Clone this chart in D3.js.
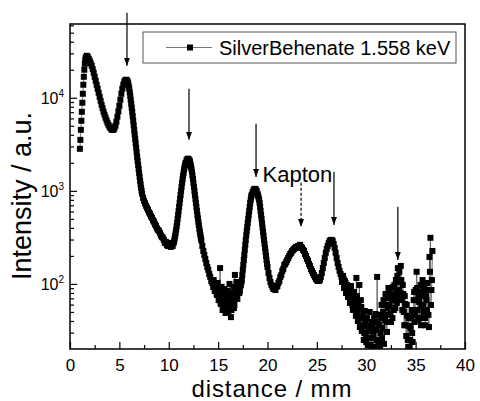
<!DOCTYPE html>
<html>
<head>
<meta charset="utf-8">
<script src="https://cdn.jsdelivr.net/npm/d3@7"></script>
<style>
  body { margin: 0; background: #fff; }
  svg { display: block; font-family: "Liberation Sans", Arial, sans-serif; }
</style>
</head>
<body>
<svg></svg>
<script>
// distance in mm, intensity in a.u.
const distance = [
  1.00,1.05,1.10,1.15,1.20,1.25,1.30,1.35,1.40,1.45,
  1.50,1.55,1.60,1.70,1.80,1.90,2.0,2.1,2.2,2.3,
  2.4,2.5,2.6,2.7,2.8,2.9,3.0,3.1,3.2,3.3,
  3.4,3.5,3.6,3.7,3.8,3.9,4.0,4.1,4.2,4.3,
  4.4,4.5,4.6,4.7,4.8,4.9,5.0,5.1,5.2,5.3,
  5.4,5.5,5.6,5.7,5.8,5.85,5.9,5.95,6.0,6.05,
  6.1,6.15,6.2,6.25,6.3,6.35,6.4,6.45,6.5,6.55,
  6.6,6.65,6.7,6.75,6.8,6.85,6.9,6.95,7.0,7.05,
  7.1,7.15,7.2,7.25,7.3,7.4,7.5,7.6,7.7,7.8,
  7.9,8.0,8.1,8.2,8.3,8.4,8.5,8.6,8.7,8.8,
  8.9,9.0,9.1,9.2,9.3,9.4,9.5,9.6,9.7,9.8,
  9.9,10.0,10.1,10.2,10.3,10.4,10.5,10.55,10.6,10.65,
  10.7,10.75,10.8,10.85,10.9,10.95,11.0,11.05,11.1,11.15,
  11.2,11.25,11.3,11.35,11.4,11.45,11.5,11.55,11.6,11.65,
  11.7,11.8,11.9,12.0,12.1,12.15,12.2,12.25,12.3,12.35,
  12.4,12.45,12.5,12.55,12.6,12.65,12.7,12.75,12.8,12.85,
  12.9,12.95,13.0,13.05,13.1,13.15,13.2,13.25,13.3,13.4,
  13.5,13.6,13.7,13.8,13.9,14.0,14.1,14.2,14.3,14.4,
  14.5,14.6,14.7,14.8,14.9,15.0,15.1,15.2,15.3,15.4,
  15.5,15.6,15.7,15.8,15.9,16.0,16.1,16.2,16.3,16.4,
  16.5,16.6,16.7,16.8,16.9,17.0,17.1,17.2,17.3,17.35,
  17.4,17.45,17.5,17.55,17.6,17.65,17.7,17.75,17.8,17.85,
  17.9,17.95,18.0,18.05,18.1,18.15,18.2,18.25,18.3,18.35,
  18.4,18.5,18.6,18.7,18.8,18.9,19.0,19.05,19.1,19.15,
  19.2,19.25,19.3,19.35,19.4,19.45,19.5,19.55,19.6,19.65,
  19.7,19.75,19.8,19.85,19.9,19.95,20.0,20.1,20.2,20.3,
  20.4,20.5,20.6,20.7,20.8,20.9,21.0,21.1,21.2,21.3,
  21.4,21.5,21.6,21.7,21.8,21.9,22.0,22.1,22.2,22.3,
  22.4,22.5,22.6,22.7,22.8,22.9,23.0,23.1,23.2,23.3,
  23.4,23.5,23.6,23.7,23.8,23.9,24.0,24.1,24.2,24.3,
  24.4,24.5,24.6,24.7,24.8,24.9,25.0,25.1,25.2,25.3,
  25.4,25.5,25.6,25.7,25.8,25.9,26.0,26.1,26.2,26.3,
  26.4,26.5,26.6,26.7,26.8,26.9,27.0,27.1,27.2,27.3,
  27.4,27.5,27.6,27.7,27.8,27.9,28.0,28.1,28.2,28.3,
  28.4,28.5,28.6,28.7,28.8,28.9,29.0,29.1,29.2,29.3,
  29.4,29.5,29.6,29.7,29.8,29.9,30.0,30.1,30.2,30.3,
  30.4,30.5,30.6,30.7,30.8,30.9,31.0,31.1,31.2,31.3,
  31.4,31.5,31.6,31.7,31.8,31.9,32.0,32.1,32.2,32.3,
  32.4,32.5,32.6,32.7,32.8,32.9,33.0,33.1,33.2,33.3,
  33.4,33.5,33.6,33.7,33.8,33.9,34.0,34.1,34.2,34.3,
  34.4,34.5,34.6,34.7,34.8,34.9,35.0,35.1,35.2,35.3,
  35.4,35.5,35.6,35.7,35.8,35.9,36.0,36.1,36.2,36.3,
  36.4,36.5,36.6,36.7
];
const intensity = [
  2830,3530,4525,5660,7070,8840,11040,13800,16800,20000,
  23200,25600,27200,28250,27550,26200,24950,23450,22050,20250,
  18550,16800,15250,13800,12500,11300,10250,9290,8410,7720,
  7070,6570,6100,5730,5380,5120,4880,4700,4580,4525,
  4525,4700,5000,5520,6250,7160,8210,9520,11040,12500,
  13800,14900,15440,15630,15250,14700,14150,13150,12500,11450,
  10510,9520,8620,7810,7070,6330,5660,5060,4525,4050,
  3620,3240,2900,2600,2320,2100,1900,1720,1560,1415,
  1280,1175,1078,1000,930,842,781,734,690,657,
  625,588,566,533,513,483,465,438,421,396,
  381,372,354,333,321,313,297,276,283,263,
  256,276,263,250,263,256,276,290,309,329,
  354,381,416,453,500,552,610,673,743,821,
  907,1000,1105,1220,1330,1450,1560,1682,1790,1900,
  2000,2130,2210,2210,2130,2050,1950,1830,1720,1600,
  1470,1345,1220,1105,1000,907,821,743,673,610,
  552,507,465,427,391,363,337,313,294,256,
  226,205,186,168,152,142,128,119,107.5,102.5,
  93,97.5,84,88,76,86,70.5,148,74,64,
  80,58,72.5,54,67,51,62.5,74,44,58,
  69,55,125,74,90.5,80,88,84,97.5,104,
  110,125,142,160,181,205,232,263,297,333,
  372,411,453,500,552,610,673,743,800,863,
  907,977,1025,1052,1040,1000,930,885,842,800,
  743,673,610,552,500,448,401,363,329,297,
  269,244,221,200,181,164,152,131,116,105,
  97.5,93,88,95,86,93,95,102.5,107.5,119,
  125,138,145,160,164,172,181,190,200,210,
  216,226,232,238,244,250,244,256,250,263,
  250,244,232,226,210,200,186,177,164,156,
  145,138,131,125,119,113,110,107.5,107.5,110,
  119,131,148,168,190,216,238,256,276,290,
  297,297,290,269,244,216,190,168,152,138,
  128,119,107.5,113,95,102.5,84,93,74,88,
  67,80,59.5,72.5,53.8,67,116,50,62.5,97.5,
  43,56.5,36,47.5,29.7,41,23.8,35.3,18.6,31.2,
  22.1,39,16.8,27.6,43,21.1,32,119,25,36,
  19.5,43,26.3,50,22.7,41,59.5,30.5,70.5,46.5,
  82,39,67,93,52.5,76,110,62.5,148,86,
  105,156,67,97.5,50,74,36,59.5,25,43,
  20.5,33.5,52.5,23.8,67,39,86,135,52.5,76,
  43,97.5,59.5,110,50,82,36,67,102.5,46.5,
  195,313,86,226
];
// in-between readings where the signal gets noisy
const extraDistance = [
  14.55,14.65,14.75,14.85,14.95,15.05,15.15,15.25,15.35,15.45,
  15.55,15.65,15.75,15.85,15.95,16.05,16.15,16.25,16.35,16.45,
  16.55,16.65,16.75,16.85,16.95,17.05,17.15,17.25,
  27.55,27.65,27.75,27.85,27.95,28.05,28.15,28.25,28.35,28.45,
  28.55,28.65,28.75,28.85,28.95,29.05,29.15,29.25,29.35,29.45,
  29.55,29.65,29.75,29.85,29.95,30.05,30.15,30.25,30.35,30.45,
  30.55,30.65,30.75,30.85,30.95,31.05,31.15,31.25,31.35,31.45,
  31.55,31.65,31.75,31.85,31.95,32.05,32.15,32.25,32.35,32.45,
  32.55,32.65,32.75,32.85,32.95,33.05,33.15,33.25,33.35,33.45,
  33.55,33.65,33.75,33.85,33.95,34.05,34.15,34.25,34.35,34.45,
  34.55,34.65,34.75,34.85,34.95,35.05,35.15,35.25,35.35,35.45,
  35.55,35.65,35.75,35.85,35.95,36.05,36.15,36.25,36.35,36.45,
  36.55,36.65
];
const extraIntensity = [
  110,84,95,78,102.5,67,90.5,61,93,52.5,
  76,88,48.8,70.5,84,58,100,65.5,52.5,80,
  93,59.5,74,105,69,93,80,95,
  105,122,90.5,107.5,80,97.5,72.5,86,62.5,95,
  69,52.5,82,61,45.5,74,40,55,34.4,67,
  31.2,43,25,51.2,27.6,43,22.1,34.4,50,26.3,
  20.5,37,18.6,32,47.5,25,39,21.6,46.5,29.7,
  59.5,33.5,67,43,78,39,55,90.5,58,47.5,
  74,43,67,97.5,55,82,122,70.5,135,80,
  110,52.5,78,36,61,27.6,45.5,21.1,35.3,25,
  43,29.7,50,82,46.5,67,90.5,41,64,82,
  36,74,58,95,43,74,52.5,86,34.4,135,
  59.5,110
];
if (distance.length !== intensity.length || extraDistance.length !== extraIntensity.length)
  throw new Error("length mismatch");

const xMajor = [0,5,10,15,20,25,30,35,40];
const xMinor = [2.5,7.5,12.5,17.5,22.5,27.5,32.5,37.5];
const yMajor = [100,1000,10000];
const yMinor = [30,40,50,60,70,80,90,200,300,400,500,600,700,800,900,
                2000,3000,4000,5000,6000,7000,8000,9000,20000,30000,40000,50000,60000];
const seriesName = "SilverBehenate 1.558 keV";
const xTitle = "distance / mm";
const yTitle = "Intensity / a.u.";

// peak markers: distance, arrow start / tip intensity
const markDist = [5.77, 12.05, 18.84, 23.4, 26.73, 33.2];
const markFrom = [82000, 12500, 5250, 1220, 1600, 673];
const markTo = [22100, 3530, 1410, 410, 430, 181];
const markDashed = [false, false, false, true, false, false];
const noteText = "Kapton";
const noteAt = [19.5, 1250];

const w = 480, h = 401;
const pLeft = 70, pRight = 465, pTop = 24, pBottom = 349;

const svg = d3.select("svg").attr("width", w).attr("height", h);

const x = d3.scaleLinear().domain([0, 40]).range([pLeft, pRight]);
const y = d3.scaleLog().domain([20, 62000]).range([pBottom, pTop]);

const defs = svg.append("defs");
defs.append("clipPath").attr("id", "plot")
  .append("rect").attr("x", pLeft).attr("y", pTop).attr("width", pRight - pLeft).attr("height", pBottom - pTop);

const marker = defs.append("marker")
  .attr("id", "arrow").attr("markerUnits", "userSpaceOnUse")
  .attr("markerWidth", 8).attr("markerHeight", 6)
  .attr("refX", 8).attr("refY", 3).attr("orient", "auto");
marker.append("path").attr("d", "M0,0L8,3L0,6Z").attr("fill", "#000");

// axes, ticks pointing inward
const xAxis = d3.axisBottom(x).tickValues(xMajor).tickSizeInner(-7).tickSizeOuter(0).tickPadding(10);
const xAxisMinor = d3.axisBottom(x).tickValues(xMinor).tickSizeInner(-4).tickSizeOuter(0).tickFormat("");
const yAxis = d3.axisLeft(y).tickValues(yMajor).tickSizeInner(-7).tickSizeOuter(0).tickFormat("");
const yAxisMinor = d3.axisLeft(y).tickValues(yMinor).tickSizeInner(-4).tickSizeOuter(0).tickFormat("");

const gx = svg.append("g").attr("transform", `translate(0,${pBottom})`).call(xAxis);
svg.append("g").attr("transform", `translate(0,${pBottom})`).call(xAxisMinor);
const gy = svg.append("g").attr("transform", `translate(${pLeft},0)`).call(yAxis);
svg.append("g").attr("transform", `translate(${pLeft},0)`).call(yAxisMinor);

svg.selectAll(".domain").remove();
svg.selectAll(".tick line").attr("stroke", "#000").attr("stroke-width", 1.2);
gx.selectAll("text").attr("font-size", 17).attr("fill", "#000")
  .attr("font-family", "Liberation Sans, Arial, sans-serif");

gy.selectAll(".tick").append("text")
  .attr("x", -6).attr("y", 6).attr("text-anchor", "end").attr("fill", "#000")
  .attr("font-size", 16).attr("font-family", "Liberation Sans, Arial, sans-serif")
  .each(function(d) {
    const t = d3.select(this);
    t.append("tspan").text("10");
    t.append("tspan").attr("dy", -7).attr("font-size", 10).text(Math.round(Math.log10(d)));
  });

svg.append("rect").attr("x", pLeft).attr("y", pTop).attr("width", pRight - pLeft).attr("height", pBottom - pTop)
  .attr("fill", "none").attr("stroke", "#000").attr("stroke-width", 1.5);

// data
const pts = distance.map((d, i) => ({d: d, v: intensity[i]}))
  .concat(extraDistance.map((d, i) => ({d: d, v: extraIntensity[i]})))
  .sort((a, b) => a.d - b.d);
const plot = svg.append("g").attr("clip-path", "url(#plot)");
plot.append("path").datum(pts)
  .attr("d", d3.line().x(p => x(p.d)).y(p => y(p.v)))
  .attr("fill", "none").attr("stroke", "#555").attr("stroke-width", 0.8);
plot.selectAll("rect.pt").data(pts).enter().append("rect").attr("class", "pt")
  .attr("x", p => x(p.d) - 3).attr("y", p => y(p.v) - 3)
  .attr("width", 6).attr("height", 6).attr("fill", "#000");

// arrows
svg.selectAll("line.mark").data(markDist).enter().append("line").attr("class", "mark")
  .attr("x1", d => x(d)).attr("x2", d => x(d))
  .attr("y1", (d, i) => y(markFrom[i])).attr("y2", (d, i) => y(markTo[i]))
  .attr("stroke", "#000").attr("stroke-width", 1.2)
  .attr("stroke-dasharray", (d, i) => markDashed[i] ? "3,2" : null)
  .attr("marker-end", "url(#arrow)");

svg.append("text").attr("x", x(noteAt[0])).attr("y", y(noteAt[1]))
  .attr("font-size", 22).attr("fill", "#000").text(noteText);

// legend
const lg = svg.append("g");
lg.append("rect").attr("x", 143).attr("y", 32).attr("width", 313).attr("height", 31)
  .attr("fill", "#fff").attr("stroke", "#555").attr("stroke-width", 1);
lg.append("line").attr("x1", 166).attr("x2", 212).attr("y1", 47.5).attr("y2", 47.5)
  .attr("stroke", "#555").attr("stroke-width", 0.8);
lg.append("rect").attr("x", 187).attr("y", 44.5).attr("width", 6).attr("height", 6).attr("fill", "#000");
lg.append("text").attr("x", 219).attr("y", 54.5).attr("font-size", 20).attr("fill", "#000").text(seriesName);

// axis titles
svg.append("text").attr("x", (pLeft + pRight) / 2 + 4).attr("y", 397).attr("text-anchor", "middle")
  .attr("font-size", 24).attr("textLength", 160).attr("lengthAdjust", "spacing")
  .attr("fill", "#000").text(xTitle);
svg.append("text").attr("transform", "rotate(-90)").attr("x", -196).attr("y", 31)
  .attr("text-anchor", "middle").attr("font-size", 27).attr("fill", "#000").text(yTitle);
</script>
</body>
</html>
